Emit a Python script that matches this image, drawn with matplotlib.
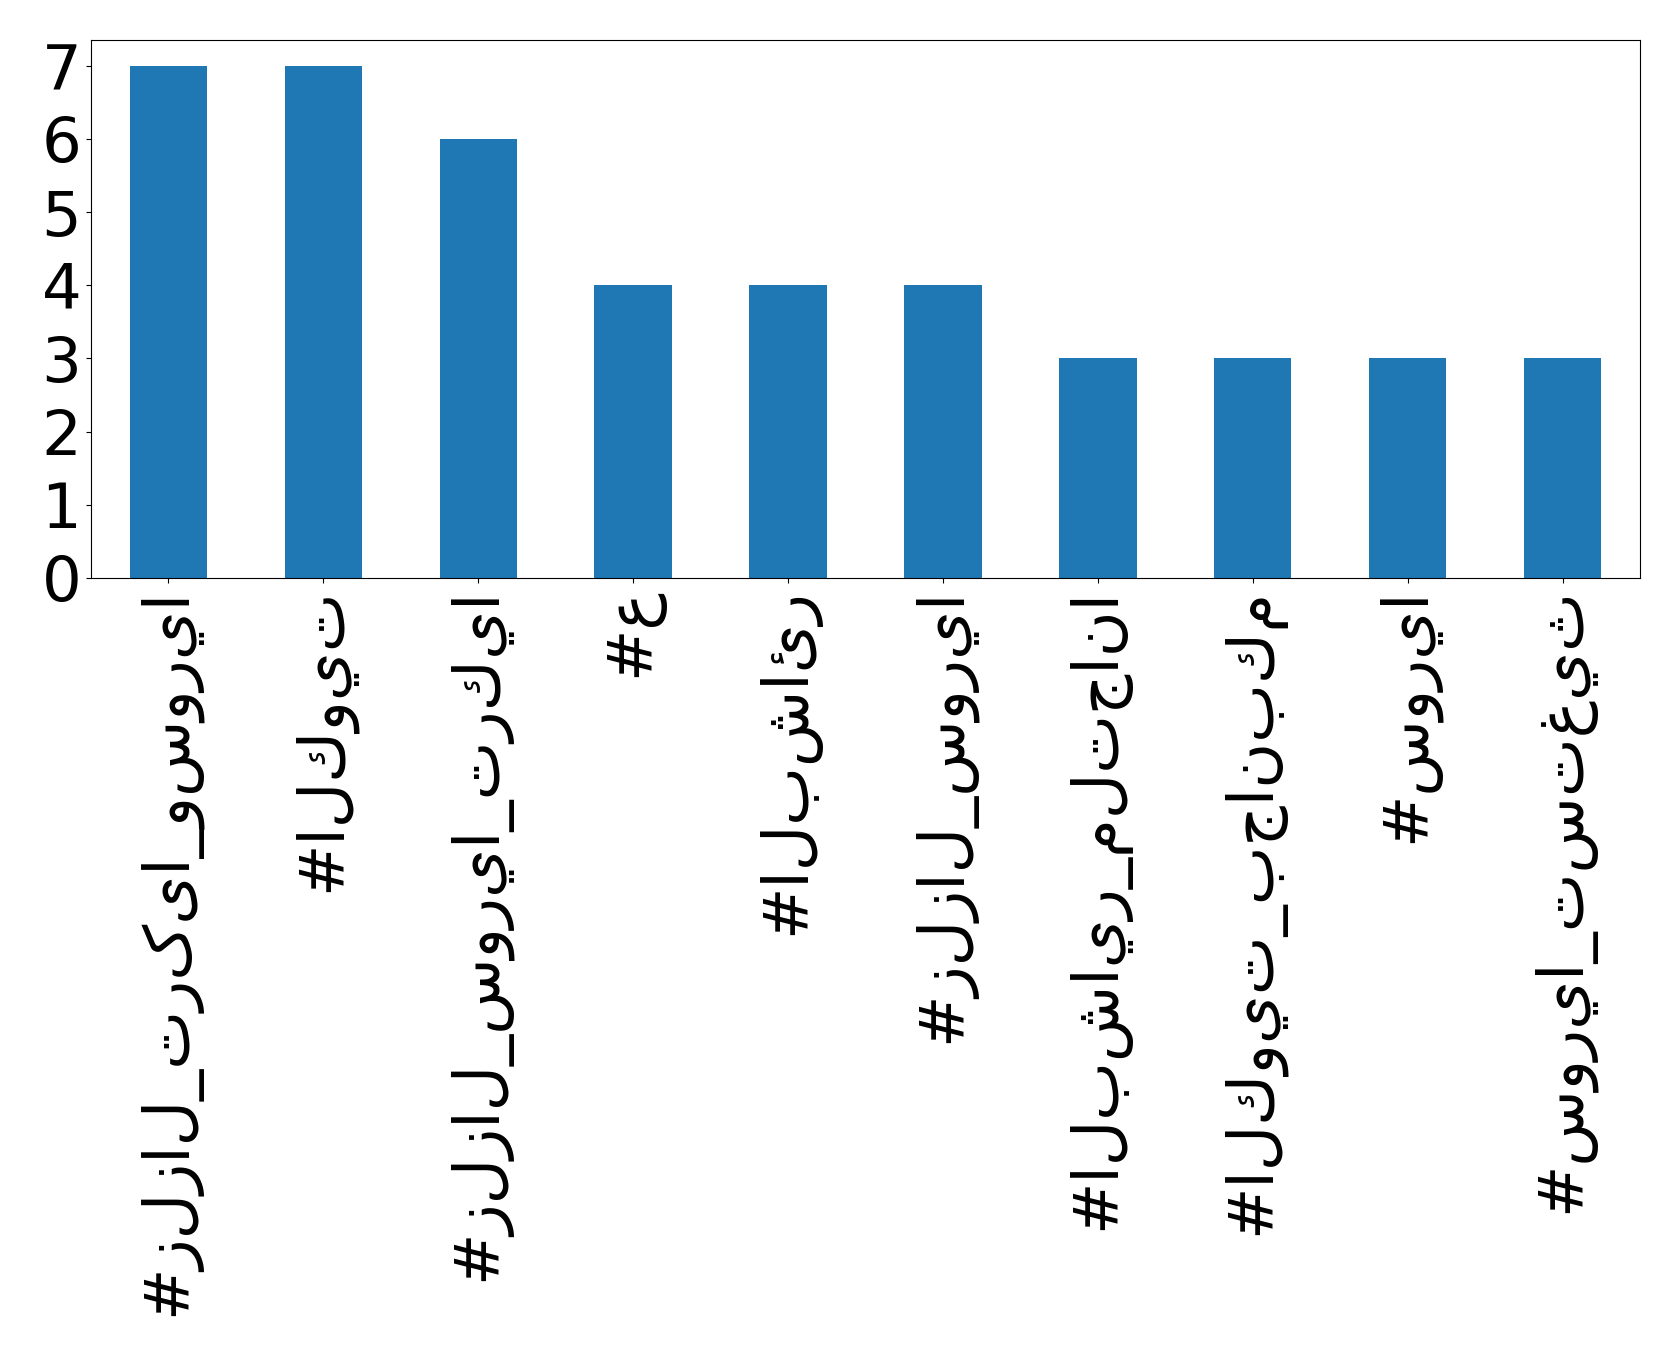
import matplotlib
matplotlib.use("Agg")
import matplotlib.pyplot as plt

categories = [
    "#زلزال_ترکیا_وسوريا",
    "#الكويت",
    "#زلزال_سوريا_تركيا",
    "#ع",
    "#البشائر",
    "#زلزال_سوريا",
    "#البشاير_ملتجانا",
    "#الكويت_بجانبكم",
    "#سوريا",
    "#سوريا_تستغيث",
]
counts = [7, 7, 6, 4, 4, 4, 3, 3, 3, 3]

plt.rcParams['font.family'] = ['DejaVu Sans']
fig = plt.figure(figsize=(16.79, 13.56), dpi=100)
ax = fig.add_axes([91/1679, 1 - 578/1356, 1549/1679, 538/1356])
x = list(range(len(categories)))
ax.bar(x, counts, width=0.5, color='#1f77b4')
ax.set_xlim(-0.5, len(categories) - 0.5)
ax.set_ylim(0, max(counts) * 1.05)
ax.set_xticks(x)
ax.set_xticklabels(categories, rotation=90, fontsize=45)
ax.set_yticks(range(0, 8))
ax.tick_params(axis='y', labelsize=45)
fig.savefig("out.png", dpi=100)
